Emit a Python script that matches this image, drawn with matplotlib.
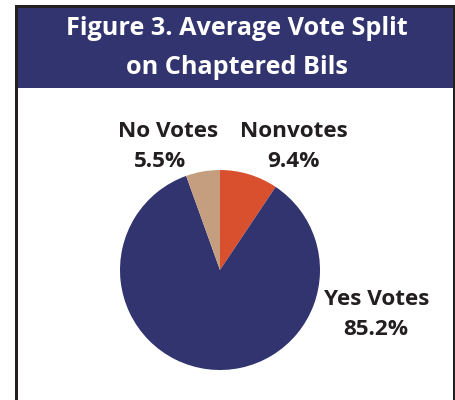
import matplotlib
matplotlib.use("Agg")
import matplotlib.pyplot as plt
from matplotlib.patches import Rectangle

# data
labels = ["Nonvotes", "Yes Votes", "No Votes"]
shares = [9.4, 85.2, 5.5]
colors = ["#d9502f", "#31346e", "#c49e7e"]
title_lines = ["Figure 3. Average Vote Split", "on Chaptered Bils"]

W, H = 456, 400
ink = "#231f20"
navy = "#31346e"

plt.rcParams["font.family"] = ["Open Sans", "DejaVu Sans"]

fig = plt.figure(figsize=(W / 100, H / 100), dpi=100)


def px(x, y):
    # pixel coords (top-left origin) -> figure fraction
    return x / W, 1 - y / H


def box(x0, y0, x1, y1, color):
    fx, fy = px(x0, y1)
    fig.patches.append(Rectangle((fx, fy), (x1 - x0) / W, (y1 - y0) / H,
                                 transform=fig.transFigure, color=color, lw=0))


# frame and title band
box(15, 5, 456, 8, ink)
box(15, 5, 18, 400, ink)
box(453, 5, 456, 400, ink)
box(18, 8, 453, 88, navy)

for i, line in enumerate(title_lines):
    fx, fy = px(237, 35 + 39 * i)
    fig.text(fx, fy, line, ha="center", va="baseline", color="white",
             fontsize=18.2, fontweight="bold")

# pie: centre (220, 270), radius 100 px
l, b = px(120, 370)
ax = fig.add_axes([l, b, 200 / W, 200 / H])
ax.pie(shares, colors=colors, startangle=90, counterclock=False,
       radius=1, wedgeprops=dict(linewidth=0))
ax.set_xlim(-1, 1)
ax.set_ylim(-1, 1)
ax.set_aspect("auto")
ax.axis("off")

# label anchors in pixels (name centre x, pct centre x, name baseline y)
label_pos = {
    "Nonvotes": (294, 294, 137),
    "Yes Votes": (377, 376, 305),
    "No Votes": (168, 160, 137),
}
for name, val in zip(labels, shares):
    nx, pxx, by = label_pos[name]
    fig.text(*px(nx, by), name, ha="center", va="baseline", color=ink,
             fontsize=16.2, fontweight="bold")
    fig.text(*px(pxx, by + 30), f"{val}%", ha="center", va="baseline",
             color=ink, fontsize=16.2, fontweight="bold")

fig.savefig("out.png", dpi=100)
